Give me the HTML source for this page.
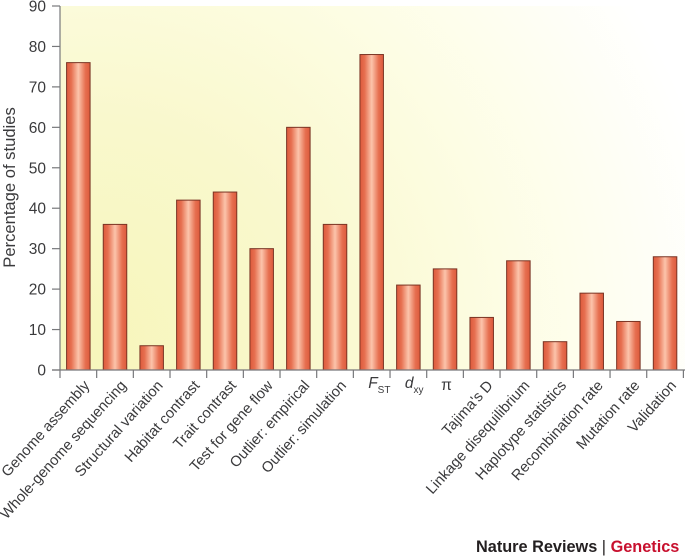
<!DOCTYPE html>
<html>
<head>
<meta charset="utf-8">
<style>
html,body{margin:0;padding:0;background:#fff;width:685px;height:557px;overflow:hidden}
svg{display:block}
text{font-family:"Liberation Sans",sans-serif;fill:#3a3a3c}
</style>
</head>
<body>
<svg id="chart" width="685" height="557" viewBox="0 0 685 557" xmlns="http://www.w3.org/2000/svg">
<defs>
<radialGradient id="bgGrad" gradientUnits="userSpaceOnUse" cx="90" cy="340" r="640">
<stop offset="0" stop-color="#f7f6bb"/>
<stop offset="0.35" stop-color="#f9f8cd"/>
<stop offset="0.65" stop-color="#fdfde4"/>
<stop offset="1" stop-color="#ffffff"/>
</radialGradient>
<linearGradient id="barGrad" x1="0" x2="1" y1="0" y2="0">
<stop offset="0" stop-color="#dd5a3c"/>
<stop offset="0.2" stop-color="#e66f50"/>
<stop offset="0.5" stop-color="#fcc4ab"/>
<stop offset="0.8" stop-color="#e66f50"/>
<stop offset="1" stop-color="#dd5a3c"/>
</linearGradient>
</defs>
<rect x="60" y="6" width="625" height="364" fill="url(#bgGrad)"/>
<g id="bars"></g>
<g id="axes"></g>
<g id="labels"></g>
<text transform="translate(15,187.5) rotate(-90)" text-anchor="middle" font-size="16.6">Percentage of studies</text>
<text x="476" y="552" font-size="16.3" font-weight="bold" style="fill:#231f20">Nature Reviews <tspan font-weight="normal">|</tspan> <tspan style="fill:#c8102e">Genetics</tspan></text>
</svg>
<script>
const categories = ["Genome assembly","Whole-genome sequencing","Structural variation","Habitat contrast","Trait contrast","Test for gene flow","Outlier: empirical","Outlier: simulation","FST","dxy","π","Tajima's D","Linkage disequilibrium","Haplotype statistics","Recombination rate","Mutation rate","Validation"];
const values = [76,36,6,42,44,30,60,36,78,21,25,13,27,7,19,12,28];
const yTicks = [0,10,20,30,40,50,60,70,80,90];

const NS = "http://www.w3.org/2000/svg";
const x0 = 60, step = 36.67, barW = 23.5, yBase = 370, yTop = 6, yMax = 90;
const xBand = function(i){ return x0 + step * i; };
const xCenter = function(i){ return xBand(i) + step / 2; };
const yScale = function(v){ return yBase - (v / yMax) * (yBase - yTop); };
function mk(parent, tag, attrs, txt){
  const el = document.createElementNS(NS, tag);
  for (const k in attrs) el.setAttribute(k, attrs[k]);
  if (txt !== undefined) el.textContent = txt;
  parent.appendChild(el);
  return el;
}
const barsG = document.getElementById("bars");
const axesG = document.getElementById("axes");
const labelsG = document.getElementById("labels");

values.forEach(function(v, i){
  const y = yScale(v);
  const r = mk(barsG, "rect", {x: xCenter(i) - barW / 2, y: y, width: barW, height: yBase - y, fill: "url(#barGrad)", stroke: "#7a3424", "stroke-width": 1});
  
  
});

const yAxis = mk(axesG, "line", {x1: x0, x2: x0, y1: yTop, y2: yBase + 8, stroke: "#77787b", "stroke-width": 1.2});


const xAxis = mk(axesG, "line", {x1: x0 - 8, x2: 685, y1: yBase, y2: yBase, stroke: "#77787b", "stroke-width": 1.2});



yTicks.forEach(function(t){
  const y = yScale(t);
  const tick = mk(axesG, "line", {x1: x0 - 8, x2: x0, y1: y, y2: y, stroke: "#77787b", "stroke-width": 1.2});
  
  
  const lab = mk(labelsG, "text", {x: x0 - 14, y: y + 5.5, "text-anchor": "end", "font-size": 15.5}, String(t));
  
  
});

categories.forEach(function(c, i){
  const tick = mk(axesG, "line", {x1: xBand(i + 1), x2: xBand(i + 1), y1: yBase, y2: yBase + 8, stroke: "#77787b", "stroke-width": 1.2});
  
  
  const cx = xCenter(i);
  let lab;
  if (c === "FST" || c === "dxy") {
    lab = mk(labelsG, "text", {x: cx - 3.5, y: 388, "font-size": 15.5});
    const a = mk(lab, "tspan", {"font-style": "italic"}, c.charAt(0));
    
    
    const b = mk(lab, "tspan", {"font-size": 10, dy: 5}, c.slice(1));
    
    
  } else if (c === "π") {
    lab = mk(labelsG, "text", {x: cx + 1.5, y: 390, "text-anchor": "middle", "font-size": 15.5}, c);
  } else {
    lab = mk(labelsG, "text", {transform: "translate(" + (cx + 12) + ",386) rotate(-48)", "text-anchor": "end", "font-size": 14.8}, c);
  }
  
  
});
</script>
</body>
</html>
